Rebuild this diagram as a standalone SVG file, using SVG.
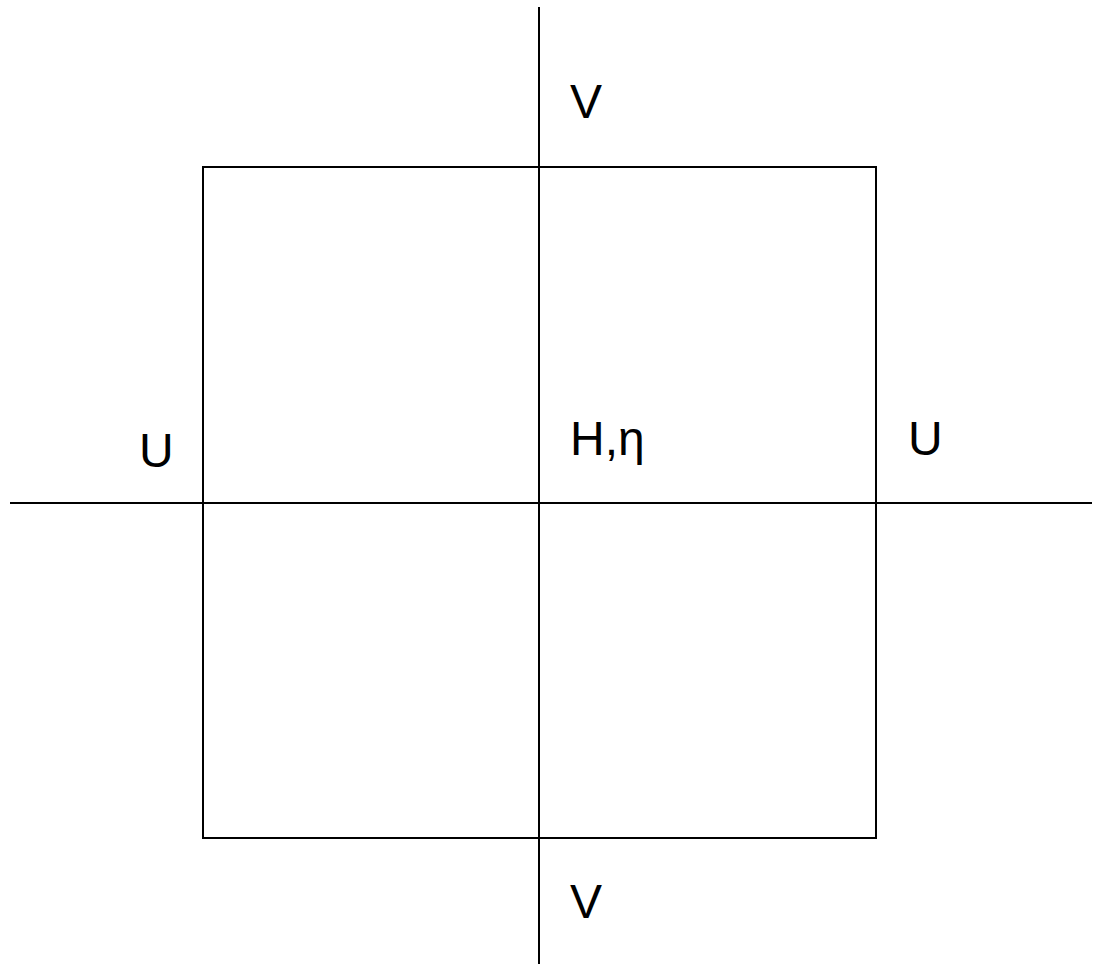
<svg xmlns="http://www.w3.org/2000/svg" width="1104" height="964" viewBox="0 0 1104 964">
<style>
.ln{stroke:#000;stroke-width:2;fill:none}
.lb{font-family:"Liberation Sans",Arial,sans-serif;font-size:48px;fill:#000}
</style>
<rect width="1104" height="964" fill="#fff"/>
<g id="cell">
<rect class="ln" x="203" y="167" width="673" height="671"/>
</g>
<g id="connectors">
<line class="ln" x1="539" y1="7" x2="539" y2="964"/>
<line class="ln" x1="10" y1="503" x2="1092" y2="503"/>
</g>
<g id="label-v-top"><text class="lb" x="570" y="118">V</text></g>
<g id="label-v-bottom"><text class="lb" x="570" y="918">V</text></g>
<g id="label-u-left"><text class="lb" x="139" y="467">U</text></g>
<g id="label-u-right"><text class="lb" x="908" y="455">U</text></g>
<g id="label-h"><text class="lb" x="570" y="455">H,η</text></g>
</svg>
